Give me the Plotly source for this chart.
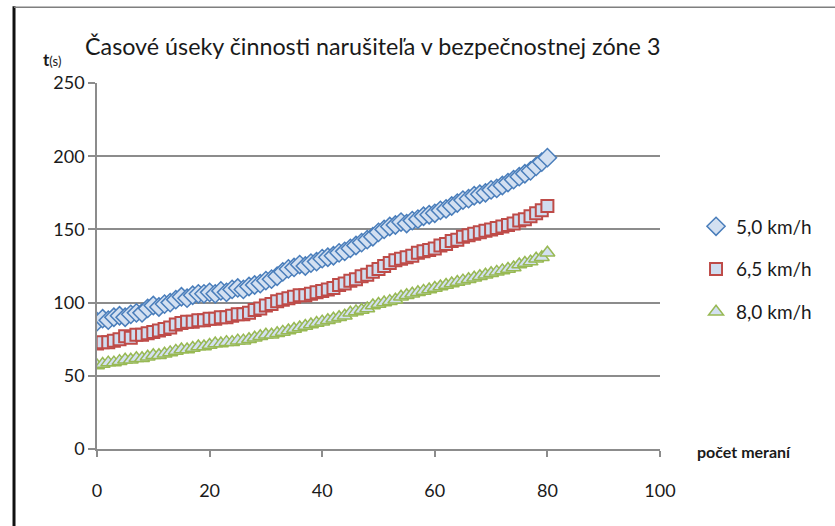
import plotly.graph_objects as go

# measurement index 0..80
pocet = list(range(81))

# time values t(s) per walking speed
t_5_0 = [87, 89, 88, 90, 91, 90, 92, 93, 93, 96,
         98, 97, 99, 100, 102, 104, 103, 105, 106, 106,
         107, 106, 108, 107, 109, 110, 109, 111, 112, 113,
         115, 116, 118, 121, 123, 124, 126, 125, 127, 128,
         130, 131, 132, 134, 135, 137, 139, 141, 143, 145,
         148, 150, 152, 153, 155, 154, 156, 157, 159, 160,
         161, 163, 164, 166, 168, 170, 171, 173, 174, 175,
         177, 178, 180, 182, 184, 186, 188, 190, 193, 196,
         199]
t_6_5 = [72, 73, 73, 74, 75, 77, 76, 78, 78, 79,
         80, 81, 82, 83, 85, 86, 87, 87, 88, 88,
         89, 89, 90, 90, 91, 92, 92, 93, 95, 96,
         98, 99, 101, 102, 103, 104, 105, 105, 106, 107,
         108, 109, 110, 112, 113, 115, 116, 118, 119, 121,
         123, 125, 127, 129, 130, 131, 132, 134, 135, 136,
         137, 139, 140, 142, 143, 145, 146, 147, 148, 149,
         150, 151, 152, 153, 154, 156, 157, 159, 161, 163,
         166]
t_8_0 = [57, 58, 59, 59, 60, 61, 61, 62, 62, 63,
         64, 64, 65, 66, 67, 68, 68, 69, 70, 70,
         71, 72, 72, 73, 73, 74, 74, 75, 76, 77,
         78, 78, 79, 80, 81, 82, 83, 84, 85, 86,
         87, 88, 89, 90, 91, 93, 94, 95, 96, 98,
         99, 100, 101, 102, 104, 105, 106, 107, 108, 109,
         110, 111, 112, 113, 114, 115, 116, 117, 118, 119,
         120, 121, 122, 123, 124, 126, 127, 128, 130, 131,
         134]

series_names = ["5,0 km/h", "6,5 km/h", "8,0 km/h"]
x_ticks = [0, 20, 40, 60, 80, 100]
y_ticks = [0, 50, 100, 150, 200, 250]

FONT = "Lato, 'Open Sans', sans-serif"
TXT = "#1a1a1a"
GRID = "#8C8C8C"

styles = [
    dict(symbol="diamond", size=14, color="#D3E0F1", line=dict(color="#4A7EBB", width=1.5)),
    dict(symbol="square", size=12, color="#D0DDF0", line=dict(color="#BE4B48", width=2)),
    dict(symbol="triangle-up", size=13, color="#D3E0F1", line=dict(color="#98B954", width=1.5)),
]

fig = go.Figure()
for name, vals, st in zip(series_names, [t_5_0, t_6_5, t_8_0], styles):
    fig.add_trace(go.Scatter(x=pocet, y=vals, mode="markers", name=name,
                             legendgroup=name, marker=st))

fig.update_layout(
    width=835, height=526,
    margin=dict(l=97, r=175, t=83, b=77),
    paper_bgcolor="white", plot_bgcolor="white",
    font=dict(family=FONT, size=18, color=TXT),
    showlegend=True,
    legend=dict(x=1.064, y=0.66, xanchor="left", yanchor="top",
                font=dict(size=19, color=TXT), tracegroupgap=15,
                bgcolor="rgba(0,0,0,0)"),
    xaxis=dict(range=[0, 100], tickvals=x_ticks, showgrid=False, zeroline=False,
               showline=True, linecolor=GRID, linewidth=1.5,
               ticks="outside", ticklen=6, tickcolor=GRID, tickwidth=1.5,
               tickfont=dict(size=18, color=TXT), ticklabelstandoff=19),
    yaxis=dict(range=[0, 250], tickvals=y_ticks, showgrid=True, gridcolor=GRID,
               gridwidth=1.6, zeroline=False, showline=True, linecolor=GRID,
               linewidth=1.5, ticks="outside", ticklen=7, tickcolor=GRID,
               tickwidth=1.5, tickfont=dict(size=18, color=TXT),
               ticksuffix="\u00a0\u00a0"),
    annotations=[
        dict(text="Časové úseky činnosti narušiteľa v bezpečnostnej zóne 3",
             xref="paper", yref="paper", x=-0.025, y=1.1, xanchor="left",
             yanchor="middle", showarrow=False,
             font=dict(size=23.3, color=TXT, family=FONT)),
        dict(text="<b>t</b><span style='font-size:13px'>(s)</span>",
             xref="paper", yref="paper", x=-0.1, y=1.065, xanchor="left",
             yanchor="middle", showarrow=False,
             font=dict(size=17, color=TXT, family=FONT)),
        dict(text="<b>počet meraní</b>",
             xref="paper", yref="paper", x=1.063, y=-0.008, xanchor="left",
             yanchor="middle", showarrow=False,
             font=dict(size=16, color=TXT, family=FONT)),
    ],
    shapes=[
        dict(type="line", xref="paper", yref="paper", x0=-0.1474, x1=-0.1474,
             y0=1.21, y1=-0.22, line=dict(color="#111111", width=3)),
        dict(type="line", xref="paper", yref="paper", x0=-0.1474, x1=1.32,
             y0=1.207, y1=1.207, line=dict(color="#7F7F7F", width=1.5)),
    ],
)

fig.write_html("out.html")
